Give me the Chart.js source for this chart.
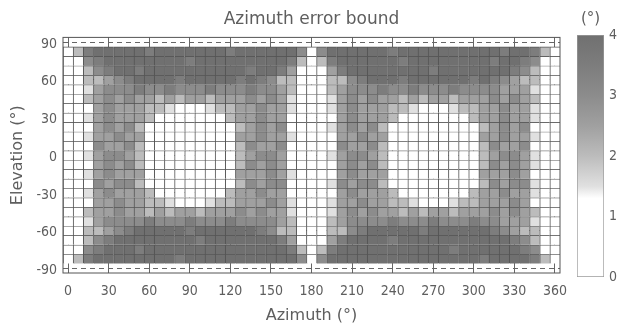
<!DOCTYPE html>
<html>
<head>
<meta charset="utf-8">
<title>Azimuth error bound</title>
<script src="https://cdn.jsdelivr.net/npm/chart.js@4.4.1/dist/chart.umd.min.js"></script>
<style>
  html, body { margin: 0; padding: 0; background: #ffffff; }
  #wrap { position: relative; width: 620px; height: 331px; }
  #mapBox { position: absolute; left: 0; top: 0; width: 620px; height: 331px; }
  #barBox { position: absolute; left: 560px; top: 0; width: 60px; height: 331px; }
</style>
</head>
<body>
<div id="wrap">
  <div id="mapBox"><canvas id="mapChart"></canvas></div>
  <div id="barBox"><canvas id="scaleChart"></canvas></div>
</div>
<script>
// Azimuth error bound map, one cell per 7.5 deg of azimuth and elevation
const azimuthDeg = [0, 7.5, 15, 22.5, 30, 37.5, 45, 52.5, 60, 67.5, 75, 82.5, 90, 97.5, 105, 112.5,
  120, 127.5, 135, 142.5, 150, 157.5, 165, 172.5, 180, 187.5, 195, 202.5, 210, 217.5, 225, 232.5,
  240, 247.5, 255, 262.5, 270, 277.5, 285, 292.5, 300, 307.5, 315, 322.5, 330, 337.5, 345, 352.5, 360];

const elevationDeg = [82.5, 75, 67.5, 60, 52.5, 45, 37.5, 30, 22.5, 15, 7.5, 0,
  -7.5, -15, -22.5, -30, -37.5, -45, -52.5, -60, -67.5, -75, -82.5];

// one string per elevation row (top to bottom), one digit per azimuth cell
// digit = error bound in half degrees (8 -> 4 deg)
const boundRows = [
  '24788 88878 88888 87888 88862 68888 88788 88888 88878 8742',
  '22678 88888 88788 88888 88742 47888 88878 88888 88788 7622',
  '22467 88788 88888 88878 87522 25788 88888 87888 88887 6422',
  '22445 67888 87888 88787 64422 24467 88878 88888 78765 4422',
  '22356 66766 76667 66676 65422 24566 67667 66676 66655 5322',
  '22456 56554 54554 55565 65322 23565 65545 45545 55656 5422',
  '22256 55544 32223 44556 55322 23565 55443 22234 45565 5322',
  '22356 55542 22222 24556 55222 22565 55422 22222 45565 5322',
  '22256 56422 22222 22456 56222 23565 64222 22222 24565 6222',
  '22355 65522 22222 22556 55322 22556 55222 22222 25565 5322',
  '22265 56422 22222 22465 56222 22655 64222 22222 24655 6222',
  '22356 65422 22222 22456 65222 23566 54222 22222 24566 5322',
  '22256 56422 22222 22465 65222 22565 64222 22222 24656 5322',
  '22356 55522 22222 22555 65322 22565 55222 22222 25556 5222',
  '22265 66422 22222 22465 66222 23656 64222 22222 24656 6322',
  '22356 55542 22222 24556 55222 22565 55422 22222 45565 5322',
  '22255 65544 32223 44555 65322 23556 55443 22234 45556 5222',
  '22455 65545 45545 55656 55322 23565 65545 45545 55656 5422',
  '22356 66676 66766 67666 65422 24566 66766 67666 76655 5322',
  '22445 67888 88788 88887 64422 24467 88888 78888 88765 4422',
  '22467 88888 88878 88888 87522 25788 88788 88888 88887 6422',
  '22678 88788 88888 88888 88742 47888 88888 88878 88888 7622',
  '24788 88888 87888 88888 88862 68888 88888 88888 87888 8742'
];

const azimuthTicks = [0, 30, 60, 90, 120, 150, 180, 210, 240, 270, 300, 330, 360];
const elevationTicks = [-90, -60, -30, 0, 30, 60, 90];
const colorbarTicks = [0, 1, 2, 3, 4];

// grey ramp: [bound (deg), grey level]
const greyRamp = [[0, 255], [1.3, 255], [1.5, 224], [2, 188], [2.5, 160], [3, 140], [3.5, 125], [4, 112]];

const cellHalf = 3.75;
const tickFont = "'Liberation Sans Narrow', 'DejaVu Sans Condensed', sans-serif";
const titleFont = "'DejaVu Sans', sans-serif";
const textColor = '#5e5e5e';

function greyFor(v) {
  let g = greyRamp[greyRamp.length - 1][1];
  for (let i = 1; i < greyRamp.length; i++) {
    const [v0, g0] = greyRamp[i - 1];
    const [v1, g1] = greyRamp[i];
    if (v <= v1) {
      const t = Math.max(0, (v - v0) / (v1 - v0));
      g = Math.round(g0 + (g1 - g0) * t);
      break;
    }
  }
  return `rgb(${g},${g},${g})`;
}

// one bar dataset per elevation row, each bar spans one cell
const rowDatasets = elevationDeg.map((el, r) => {
  const digits = boundRows[r].replace(/\s/g, '');
  if (digits.length !== azimuthDeg.length) {
    throw new Error('row ' + r + ' has ' + digits.length + ' cells');
  }
  const bounds = digits.split('').map(d => Number(d) / 2);
  return {
    label: 'el ' + el,
    data: azimuthDeg.map(az => ({ x: az, y: [el - cellHalf, el + cellHalf] })),
    backgroundColor: bounds.map(greyFor),
    borderColor: '#555555',
    borderWidth: { top: 1, left: 1, right: 0, bottom: 0 },
    borderSkipped: false,
    grouped: false,
    barPercentage: 1,
    categoryPercentage: 1
  };
});

// box round the plot area
const framePlugin = {
  id: 'frame',
  afterDatasetsDraw(chart) {
    const { ctx, chartArea: a } = chart;
    ctx.save();
    ctx.strokeStyle = '#555555';
    ctx.lineWidth = 1;
    ctx.strokeRect(a.left, a.top, a.right - a.left, a.bottom - a.top);
    ctx.restore();
  }
};

function rampGradient(chart) {
  const { ctx, chartArea, scales } = chart;
  if (!chartArea) return greyFor(0);
  const y = scales.y;
  const lo = colorbarTicks[0];
  const hi = colorbarTicks[colorbarTicks.length - 1];
  const grad = ctx.createLinearGradient(0, y.getPixelForValue(lo), 0, y.getPixelForValue(hi));
  greyRamp.forEach(([v]) => grad.addColorStop((v - lo) / (hi - lo), greyFor(v)));
  return grad;
}

document.addEventListener('DOMContentLoaded', function() {
  new Chart(document.getElementById('mapChart'), {
    type: 'bar',
    data: { datasets: rowDatasets },
    plugins: [framePlugin],
    options: {
      responsive: true,
      maintainAspectRatio: false,
      animation: false,
      layout: { padding: { left: 0, right: 60, top: 0, bottom: 0 } },
      plugins: {
        legend: { display: false },
        tooltip: { enabled: false },
        title: {
          display: true,
          text: 'Azimuth error bound',
          fullSize: false,
          color: textColor,
          font: { family: titleFont, size: 17, weight: 'normal' },
          padding: { top: 9, bottom: 8 }
        }
      },
      scales: {
        x: {
          type: 'linear',
          min: azimuthDeg[0] - cellHalf,
          max: azimuthDeg[azimuthDeg.length - 1] + cellHalf,
          offset: false,
          afterBuildTicks: s => { s.ticks = azimuthTicks.map(v => ({ value: v })); },
          afterFit: s => { s.height = 58; },
          grid: { offset: false, color: '#666666', drawTicks: false },
          border: { display: false },
          ticks: {
            padding: 10,
            color: textColor,
            autoSkip: false,
            maxRotation: 0,
            font: { family: tickFont, size: 14 }
          },
          title: {
            display: true,
            text: 'Azimuth (°)',
            color: textColor,
            font: { family: titleFont, size: 16 },
            padding: { top: 0, bottom: 6 }
          }
        },
        y: {
          type: 'linear',
          min: elevationTicks[0] - cellHalf,
          max: elevationTicks[elevationTicks.length - 1] + cellHalf,
          afterBuildTicks: s => { s.ticks = elevationTicks.map(v => ({ value: v })); },
          afterFit: s => { s.width = 63; },
          grid: { color: '#666666', drawTicks: false },
          border: {
            display: false,
            dash: c => (c.tick && Math.abs(c.tick.value) === 90 ? [5, 4] : [])
          },
          ticks: {
            padding: 6,
            labelOffset: 2,
            color: textColor,
            font: { family: tickFont, size: 14 }
          },
          title: {
            display: true,
            text: 'Elevation (°)',
            color: textColor,
            font: { family: titleFont, size: 16 },
            padding: { top: 8, bottom: 0 }
          }
        }
      }
    }
  });

  // colour bar
  new Chart(document.getElementById('scaleChart'), {
    type: 'bar',
    data: {
      labels: [''],
      datasets: [{
        data: [[colorbarTicks[0], colorbarTicks[colorbarTicks.length - 1]]],
        backgroundColor: c => rampGradient(c.chart),
        borderColor: '#9a9a9a',
        borderWidth: 1,
        borderSkipped: false,
        barPercentage: 1,
        categoryPercentage: 1
      }]
    },
    options: {
      responsive: true,
      maintainAspectRatio: false,
      animation: false,
      layout: { padding: { left: 17, right: 0, top: 0, bottom: 54 } },
      plugins: {
        legend: { display: false },
        tooltip: { enabled: false },
        title: {
          display: true,
          text: '(°)',
          fullSize: false,
          color: textColor,
          font: { family: titleFont, size: 15, weight: 'normal' },
          padding: { top: 10, bottom: 7 }
        }
      },
      scales: {
        x: { display: false },
        y: {
          position: 'right',
          min: colorbarTicks[0],
          max: colorbarTicks[colorbarTicks.length - 1],
          afterBuildTicks: s => { s.ticks = colorbarTicks.map(v => ({ value: v })); },
          afterFit: s => { s.width = 16; },
          grid: { display: false, drawTicks: false },
          border: { display: false },
          ticks: {
            padding: 5,
            color: textColor,
            font: { family: tickFont, size: 14 }
          }
        }
      }
    }
  });
});
</script>
</body>
</html>
